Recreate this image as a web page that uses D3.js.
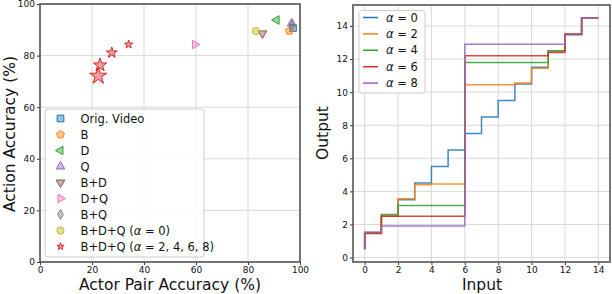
<!DOCTYPE html>
<html>
<head>
<meta charset="utf-8">
<script src="https://cdn.jsdelivr.net/npm/d3@7"></script>
<style>
body { margin: 0; background: #fff; }
svg { font-family: "DejaVu Sans", sans-serif; }
</style>
</head>
<body>
<svg id="chart" width="612" height="294"></svg>
<script>
// ---- scatter data (left panel) ----
var methods = ["Orig. Video", "B", "D", "Q", "B+D", "D+Q", "B+Q", "B+D+Q (α = 0)", "B+D+Q (α = 2, 4, 6, 8)"];
var pairAcc = [97.3, 95.9, 91.0, 96.8, 85.6, 59.6, 96.9, 83.0];
var actionAcc = [90.7, 89.6, 93.8, 92.5, 88.6, 84.3, 91.8, 89.5];
var starPair = [34.1, 27.6, 23.1, 22.4];
var starAction = [84.3, 81.1, 76.3, 72.1];
var starSize = [22, 38, 55, 90];
var scatterColors = ["#1f77b4", "#ff7f0e", "#2ca02c", "#9467bd", "#8c564b", "#e377c2", "#7f7f7f", "#bcbd22", "#d62728"];
var pctTicks = [0, 20, 40, 60, 80, 100];

// ---- step data (right panel) ----
var inputs = d3.range(0, 15);
var alphas = [0, 2, 4, 6, 8];
var out0 = [0.5, 1.5, 2.5, 3.5, 4.5, 5.5, 6.5, 7.5, 8.5, 9.5, 10.5, 11.5, 12.5, 13.5, 14.5];
var out2 = [0.5, 1.5, 2.5, 3.55, 4.4, 4.45, 4.45, 10.45, 10.45, 10.45, 10.55, 11.45, 12.5, 13.5, 14.5];
var out4 = [0.5, 1.5, 2.6, 3.15, 3.15, 3.15, 3.15, 11.8, 11.8, 11.8, 11.8, 11.8, 12.5, 13.5, 14.5];
var out6 = [0.5, 1.45, 2.5, 2.5, 2.5, 2.5, 2.5, 12.2, 12.2, 12.2, 12.2, 12.2, 12.4, 13.5, 14.5];
var out8 = [0.5, 1.55, 1.9, 1.9, 1.9, 1.9, 1.9, 12.9, 12.9, 12.9, 12.9, 12.9, 12.9, 13.45, 14.5];
var outputs = [out0, out2, out4, out6, out8];
var lineColors = ["#1f77b4", "#ff7f0e", "#2ca02c", "#d62728", "#9467bd"];
var stepTicks = [0, 2, 4, 6, 8, 10, 12, 14];

var svg = d3.select("#chart");
var spine = "#555", grid = "#d9d9d9";

function drawAxes(g, x, y, xt, yt) {
  var xr = x.range(), yr = y.range();
  // grid
  g.append("g").selectAll("line").data(xt).enter().append("line")
    .attr("x1", function(d) { return x(d); }).attr("x2", function(d) { return x(d); })
    .attr("y1", yr[0]).attr("y2", yr[1]).attr("stroke", grid).attr("stroke-width", 1);
  g.append("g").selectAll("line").data(yt).enter().append("line")
    .attr("y1", function(d) { return y(d); }).attr("y2", function(d) { return y(d); })
    .attr("x1", xr[0]).attr("x2", xr[1]).attr("stroke", grid).attr("stroke-width", 1);
  var xa = g.append("g").attr("transform", "translate(0," + yr[0] + ")")
    .call(d3.axisBottom(x).tickValues(xt).tickSize(3).tickPadding(2));
  var ya = g.append("g").attr("transform", "translate(" + xr[0] + ",0)")
    .call(d3.axisLeft(y).tickValues(yt).tickSize(3).tickPadding(2));
  [xa, ya].forEach(function(a) {
    a.select(".domain").remove();
    a.selectAll("line").attr("stroke", "#333");
    a.selectAll("text").attr("font-size", 9).attr("fill", "#111").attr("font-family", "DejaVu Sans");
  });
}

function frame(g, x, y) {
  var xr = x.range(), yr = y.range();
  g.append("rect").attr("x", xr[0]).attr("y", yr[1])
    .attr("width", xr[1] - xr[0]).attr("height", yr[0] - yr[1])
    .attr("fill", "none").attr("stroke", spine).attr("stroke-width", 1.6);
}

// ================= left panel =================
var xL = d3.scaleLinear().domain([0, 100]).range([40, 300]);
var yL = d3.scaleLinear().domain([0, 100]).range([262, 4]);
var gL = svg.append("g");
drawAxes(gL, xL, yL, pctTicks, pctTicks);

var pentagon = {
  draw: function(ctx, size) {
    var r = Math.sqrt(size / 2.378);
    for (var i = 0; i < 5; i++) {
      var a = -Math.PI / 2 + i * 2 * Math.PI / 5;
      if (i === 0) ctx.moveTo(r * Math.cos(a), r * Math.sin(a));
      else ctx.lineTo(r * Math.cos(a), r * Math.sin(a));
    }
    ctx.closePath();
  }
};
var shapes = [d3.symbolSquare, pentagon, d3.symbolTriangle, d3.symbolTriangle, d3.symbolTriangle,
  d3.symbolTriangle, d3.symbolDiamond, d3.symbolCircle, d3.symbolStar];
var rotations = [0, 0, -90, 0, 180, 90, 0, 0, 0];
var sizes = [45, 40, 32, 32, 32, 32, 28, 40, 16];

function marker(sel, i, size) {
  sel.attr("d", d3.symbol().type(shapes[i]).size(size)())
    .attr("fill", scatterColors[i]).attr("fill-opacity", 0.45)
    .attr("stroke", scatterColors[i]).attr("stroke-width", 1);
}

gL.append("g").selectAll("path").data(pairAcc).enter().append("path")
  .each(function(d, i) { marker(d3.select(this), i, sizes[i]); })
  .attr("transform", function(d, i) {
    return "translate(" + xL(d) + "," + yL(actionAcc[i]) + ") rotate(" + rotations[i] + ")";
  });
gL.append("g").selectAll("path").data(starPair).enter().append("path")
  .each(function(d, i) { marker(d3.select(this), 8, starSize[i]); })
  .attr("transform", function(d, i) {
    return "translate(" + xL(d) + "," + yL(starAction[i]) + ")";
  });
frame(gL, xL, yL);

// legend
var legL = gL.append("g").attr("transform", "translate(45,109)");
legL.append("rect").attr("width", 159).attr("height", 148).attr("rx", 3)
  .attr("fill", "#fff").attr("fill-opacity", 0.85).attr("stroke", "#ccc");
methods.forEach(function(m, i) {
  var row = legL.append("g").attr("transform", "translate(0," + (9.5 + i * 16) + ")");
  row.append("path").call(function(s) { marker(s, i, sizes[i]); })
    .attr("transform", "translate(15.5,0) rotate(" + rotations[i] + ")");
  var t = row.append("text").attr("x", 35.5).attr("y", 4).attr("font-size", 11.5).attr("fill", "#111");
  var parts = m.split("α");
  t.append("tspan").text(parts[0]);
  if (parts.length > 1) {
    t.append("tspan").attr("font-style", "italic").text("α");
    t.append("tspan").text(parts[1]);
  }
});

gL.append("text").attr("x", 170).attr("y", 290).attr("text-anchor", "middle")
  .attr("font-size", 15.5).attr("fill", "#111").text("Actor Pair Accuracy (%)");
gL.append("text").attr("transform", "translate(14.5,134) rotate(-90)").attr("text-anchor", "middle")
  .attr("font-size", 15.5).attr("fill", "#111").text("Action Accuracy (%)");

// ================= right panel =================
var xR = d3.scaleLinear().domain([-0.7, 14.7]).range([353, 610]);
var yR = d3.scaleLinear().domain([-0.27, 15.27]).range([262, 5]);
var gR = svg.append("g");
drawAxes(gR, xR, yR, stepTicks, stepTicks);

var stepLine = d3.line().curve(d3.curveStepBefore)
  .x(function(d) { return xR(d[0]); }).y(function(d) { return yR(d[1]); });
outputs.forEach(function(ys, k) {
  gR.append("path").datum(inputs.map(function(v, i) { return [v, ys[i]]; }))
    .attr("d", stepLine).attr("fill", "none")
    .attr("stroke", lineColors[k]).attr("stroke-width", 1.5).attr("stroke-opacity", 0.85);
});
frame(gR, xR, yR);

var legR = gR.append("g").attr("transform", "translate(359,10.5)");
legR.append("rect").attr("width", 66).attr("height", 82.5).attr("rx", 3)
  .attr("fill", "#fff").attr("fill-opacity", 0.85).attr("stroke", "#ccc");
alphas.forEach(function(a, i) {
  var row = legR.append("g").attr("transform", "translate(0," + (7 + i * 16.4) + ")");
  row.append("line").attr("x1", 4).attr("x2", 19).attr("stroke", lineColors[i]).attr("stroke-width", 1.5);
  var t = row.append("text").attr("x", 27).attr("y", 4).attr("font-size", 11.5).attr("fill", "#111");
  t.append("tspan").attr("font-style", "italic").text("α");
  t.append("tspan").text(" = " + a);
});

gR.append("text").attr("x", 482).attr("y", 290).attr("text-anchor", "middle")
  .attr("font-size", 15.5).attr("fill", "#111").text("Input");
gR.append("text").attr("transform", "translate(328,133) rotate(-90)").attr("text-anchor", "middle")
  .attr("font-size", 15.5).attr("fill", "#111").text("Output");
</script>
</body>
</html>
